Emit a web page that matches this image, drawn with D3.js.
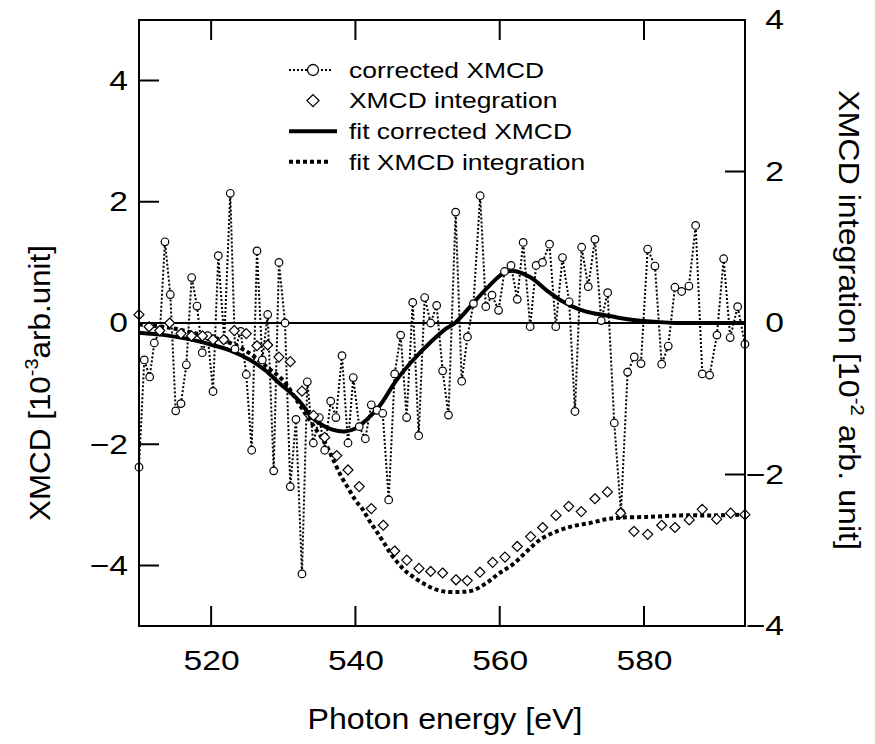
<!DOCTYPE html>
<html>
<head>
<meta charset="utf-8">
<script src="https://cdn.jsdelivr.net/npm/d3@7"></script>
<style>
  body { margin: 0; background: #fff; }
  svg text { font-family: "Liberation Sans", Arial, sans-serif; fill: #000; }
</style>
</head>
<body>
<svg id="chart" width="875" height="744"></svg>
<script>
// corrected XMCD (left axis, 10^-3 arb.unit)
const energy = [510.00,510.73,511.48,512.12,512.91,513.60,514.34,515.09,515.82,516.56,517.30,518.04,518.77,519.52,520.26,520.99,521.82,522.65,523.31,524.10,524.87,525.62,526.35,527.09,527.84,528.67,529.40,530.24,530.97,531.76,532.59,533.33,534.16,534.99,535.74,536.57,537.30,538.14,538.97,539.70,540.53,541.37,542.20,542.99,543.78,544.61,545.44,546.27,547.10,547.94,548.77,549.60,550.43,551.26,552.09,552.90,553.89,554.73,555.53,556.36,557.29,558.07,558.93,559.84,560.66,561.56,562.43,563.25,564.22,565.05,565.93,566.90,567.77,568.70,569.63,570.43,571.36,572.27,573.20,574.07,574.96,575.88,576.80,577.73,578.65,579.58,580.51,581.52,582.45,583.36,584.29,585.22,586.23,587.16,588.08,589.10,590.11,591.04,591.95,592.98,593.99];
const xmcd = [-2.38,-0.61,-0.89,-0.33,-0.12,1.34,0.47,-1.45,-1.33,-0.69,0.75,0.28,-0.49,-0.21,-1.13,1.11,-0.28,2.14,-0.43,-0.14,-0.85,-2.10,1.19,-0.61,0.14,-2.44,1.00,0.00,-2.70,-1.59,-4.14,-0.97,-1.98,-1.56,-2.10,-1.29,-1.56,-0.54,-1.98,-0.90,-1.71,-1.91,-1.35,-1.44,-1.49,-2.92,-0.84,-0.20,-1.56,0.34,-1.86,0.42,0.00,0.29,-0.79,-1.52,1.83,-0.96,-0.23,0.32,2.10,0.27,0.46,0.21,0.85,0.95,0.39,1.33,-0.06,0.95,1.00,1.30,-0.06,1.08,0.35,-1.46,1.25,0.60,1.38,0.04,0.50,-1.65,-3.13,-0.81,-0.56,-0.67,1.22,0.94,-0.68,-0.38,0.59,0.52,0.61,1.61,-0.84,-0.86,-0.20,1.06,-0.24,0.27,-0.35];

// XMCD integration (right axis, 10^-2 arb. unit)
const intEnergy = [510.00,511.39,512.87,514.25,515.82,517.28,518.80,520.26,521.74,523.21,524.87,526.35,527.84,529.40,530.97,532.59,534.19,535.74,537.40,538.97,540.53,542.20,543.86,545.44,547.13,548.81,550.43,552.09,553.94,555.50,557.26,559.02,560.73,562.43,564.29,565.95,567.80,569.56,571.30,573.20,574.93,576.76,578.61,580.51,582.45,584.29,586.27,588.07,590.07,592.01,593.99];
const integration = [0.11,-0.05,-0.10,0.00,-0.14,-0.17,-0.17,-0.22,-0.22,-0.10,-0.14,-0.30,-0.29,-0.45,-0.51,-0.90,-1.22,-1.51,-1.75,-1.94,-2.16,-2.45,-2.67,-3.01,-3.13,-3.24,-3.28,-3.30,-3.39,-3.40,-3.29,-3.16,-3.09,-2.95,-2.82,-2.70,-2.54,-2.42,-2.49,-2.32,-2.23,-2.51,-2.75,-2.79,-2.67,-2.70,-2.60,-2.46,-2.59,-2.51,-2.53];

// fit corrected XMCD (left axis)
const fitEnergy = [510.0,513.6,517.1,519.8,522.6,525.4,527.5,529.5,531.0,532.3,534.0,535.5,536.8,538.5,540.0,541.6,543.4,545.7,548.0,550.3,552.6,553.8,555.9,558.2,560.5,561.9,564.2,566.5,568.8,571.1,573.0,575.5,577.3,579.2,581.5,584.3,588.0,594.0];
const fitXmcd = [-0.16,-0.20,-0.27,-0.35,-0.45,-0.61,-0.78,-1.00,-1.15,-1.30,-1.56,-1.69,-1.76,-1.79,-1.74,-1.59,-1.36,-0.94,-0.61,-0.33,-0.09,0.00,0.27,0.57,0.82,0.86,0.76,0.54,0.35,0.22,0.16,0.11,0.07,0.04,0.02,0.00,0.00,0.00];

// fit XMCD integration (right axis)
const fitIntEnergy = [510,514,518,522,525,528,530,532,533.2,534.5,536,537,538,539,540,541,542,543,544,545,546,547,548,550,552,554.5,556.3,558.2,560,561.9,563.7,565.6,567.9,570.2,572.5,574.8,576.7,580.4,585,589.6,594];
const fitInt = [-0.02,-0.06,-0.14,-0.24,-0.38,-0.60,-0.76,-1.04,-1.22,-1.40,-1.62,-1.82,-2.02,-2.18,-2.34,-2.46,-2.62,-2.76,-2.91,-3.06,-3.18,-3.28,-3.35,-3.47,-3.54,-3.55,-3.53,-3.43,-3.30,-3.18,-3.02,-2.86,-2.75,-2.68,-2.64,-2.59,-2.57,-2.56,-2.54,-2.54,-2.53];

const xTicks = [520, 540, 560, 580];
const yTicks = [-4, -2, 0, 2, 4];
const y2Ticks = [-4, -2, 0, 2, 4];

const legendLabels = ['corrected XMCD', 'XMCD integration', 'fit corrected XMCD', 'fit XMCD integration'];

const plotL = 139, plotR = 745, plotT = 20, plotB = 626;
const svg = d3.select('#chart');

const x = d3.scaleLinear().domain([510, 594]).range([plotL, plotR]);
const y = d3.scaleLinear().domain([-5, 5]).range([plotB, plotT]);
const yR = d3.scaleLinear().domain([-4, 4]).range([plotB, plotT]);

// the original text is drawn about 20% wider than Arial
const wide = 1.2;
function stretch(sel, k) {
  sel.each(function () {
    let w = this.getComputedTextLength();
    d3.select(this).attr('textLength', w * k).attr('lengthAdjust', 'spacingAndGlyphs');
  });
}

// zero line
svg.append('line')
  .attr('x1', plotL).attr('x2', plotR)
  .attr('y1', y(0)).attr('y2', y(0))
  .attr('stroke', '#000').attr('stroke-width', 2);

// fits
let fitLine = d3.line().x((d) => x(d[0])).y((d) => y(d[1])).curve(d3.curveCatmullRom);
let fitIntLine = d3.line().x((d) => x(d[0])).y((d) => yR(d[1])).curve(d3.curveCatmullRom);

svg.append('path')
  .attr('d', fitIntLine(d3.zip(fitIntEnergy, fitInt)))
  .attr('fill', 'none').attr('stroke', '#000')
  .attr('stroke-width', 4).attr('stroke-dasharray', '4,3');

svg.append('path')
  .attr('d', fitLine(d3.zip(fitEnergy, fitXmcd)))
  .attr('fill', 'none').attr('stroke', '#000')
  .attr('stroke-width', 4);

// corrected XMCD, dotted line + circles
let dataLine = d3.line().x((d) => x(d[0])).y((d) => y(d[1]));
svg.append('path')
  .attr('d', dataLine(d3.zip(energy, xmcd)))
  .attr('fill', 'none').attr('stroke', '#000')
  .attr('stroke-width', 2).attr('stroke-dasharray', '2,2');

svg.append('g').selectAll('circle')
  .data(d3.zip(energy, xmcd))
  .join('circle')
  .attr('cx', (d) => x(d[0])).attr('cy', (d) => y(d[1]))
  .attr('r', 3.8)
  .attr('fill', '#fff').attr('stroke', '#000').attr('stroke-width', 1.2);

// integration diamonds
let diamond = (cx, cy, s) => `M${cx},${cy - s}L${cx + s},${cy}L${cx},${cy + s}L${cx - s},${cy}Z`;
svg.append('g').selectAll('path')
  .data(d3.zip(intEnergy, integration))
  .join('path')
  .attr('d', (d) => diamond(x(d[0]), yR(d[1]), 5))
  .attr('fill', '#fff').attr('stroke', '#000').attr('stroke-width', 1.2);

// frame
svg.append('rect')
  .attr('x', plotL).attr('y', plotT)
  .attr('width', plotR - plotL).attr('height', plotB - plotT)
  .attr('fill', 'none').attr('stroke', '#000').attr('stroke-width', 2);

// inward ticks on all four sides, as one path
const tickLen = 20;
let tickPath = d3.path();
xTicks.forEach((t) => {
  tickPath.moveTo(x(t), plotB); tickPath.lineTo(x(t), plotB - tickLen);
  tickPath.moveTo(x(t), plotT); tickPath.lineTo(x(t), plotT + tickLen);
});
yTicks.forEach((t) => {
  tickPath.moveTo(plotL, y(t)); tickPath.lineTo(plotL + tickLen, y(t));
});
y2Ticks.forEach((t) => {
  tickPath.moveTo(plotR, yR(t)); tickPath.lineTo(plotR - tickLen, yR(t));
});
svg.append('path')
  .attr('d', tickPath.toString())
  .attr('fill', 'none').attr('stroke', '#000').attr('stroke-width', 2);

// tick labels from the axes
const tickFont = 28;
svg.append('g').attr('class', 'xaxis').attr('transform', `translate(0,${plotB})`)
  .call(d3.axisBottom(x).tickValues(xTicks).tickSize(0).tickPadding(24).tickFormat(d3.format('d')))
  .call((g) => g.select('.domain').remove());
svg.append('g').attr('class', 'yaxis').attr('transform', `translate(${plotL},0)`)
  .call(d3.axisLeft(y).tickValues(yTicks).tickSize(0).tickPadding(11).tickFormat(d3.format('d')))
  .call((g) => g.select('.domain').remove());
// right labels are right-aligned at x = 784
svg.append('g').attr('class', 'y2axis').attr('transform', `translate(784,0)`)
  .call(d3.axisLeft(yR).tickValues(y2Ticks).tickSize(0).tickPadding(0).tickFormat(d3.format('d')))
  .call((g) => g.select('.domain').remove());

svg.selectAll('.tick text')
  .attr('font-size', tickFont)
  .attr('font-family', '"Liberation Sans", Arial, sans-serif')
  .attr('fill', '#000')
  .call(stretch, wide);

// axis titles
const titleFont = 30;
svg.append('text')
  .attr('x', 445).attr('y', 729)
  .attr('text-anchor', 'middle').attr('font-size', titleFont)
  .attr('textLength', 275).attr('lengthAdjust', 'spacingAndGlyphs')
  .text('Photon energy [eV]');

let yTitle = svg.append('text')
  .attr('transform', 'translate(50,383) rotate(-90)')
  .attr('text-anchor', 'middle').attr('font-size', titleFont)
  .attr('textLength', 276).attr('lengthAdjust', 'spacingAndGlyphs');
yTitle.append('tspan').text('XMCD [10');
yTitle.append('tspan').attr('font-size', 19).attr('dy', -12).text('-3');
yTitle.append('tspan').attr('dy', 12).text('arb.unit]');

let y2Title = svg.append('text')
  .attr('transform', 'translate(839,320) rotate(90)')
  .attr('text-anchor', 'middle').attr('font-size', titleFont)
  .attr('textLength', 460).attr('lengthAdjust', 'spacingAndGlyphs');
y2Title.append('tspan').text('XMCD integration [10');
y2Title.append('tspan').attr('font-size', 19).attr('dy', -12).text('-2');
y2Title.append('tspan').attr('dy', 12).text(' arb. unit]');

// legend
const legX = 289, legTextX = 349, legY = 70, legStep = 30.6;
let legend = svg.append('g');
legendLabels.forEach((label, idx) => {
  let ly = legY + idx * legStep;
  if (idx === 0) {
    legend.append('line').attr('x1', legX).attr('x2', legX + 44).attr('y1', ly).attr('y2', ly)
      .attr('stroke', '#000').attr('stroke-width', 2).attr('stroke-dasharray', '2,2');
    legend.append('circle').attr('cx', 313).attr('cy', ly).attr('r', 5.5)
      .attr('fill', '#fff').attr('stroke', '#000').attr('stroke-width', 1.3);
  } else if (idx === 1) {
    legend.append('path').attr('d', diamond(313, ly, 6))
      .attr('fill', '#fff').attr('stroke', '#000').attr('stroke-width', 1.3);
  } else if (idx === 2) {
    legend.append('line').attr('x1', legX).attr('x2', legX + 48).attr('y1', ly).attr('y2', ly)
      .attr('stroke', '#000').attr('stroke-width', 4);
  } else {
    legend.append('line').attr('x1', legX).attr('x2', legX + 42).attr('y1', ly).attr('y2', ly)
      .attr('stroke', '#000').attr('stroke-width', 4).attr('stroke-dasharray', '4,3');
  }
  legend.append('text').attr('x', legTextX).attr('y', ly).attr('dy', '0.35em')
    .attr('font-size', 22).text(label)
    .call(stretch, wide);
});
</script>
</body>
</html>
